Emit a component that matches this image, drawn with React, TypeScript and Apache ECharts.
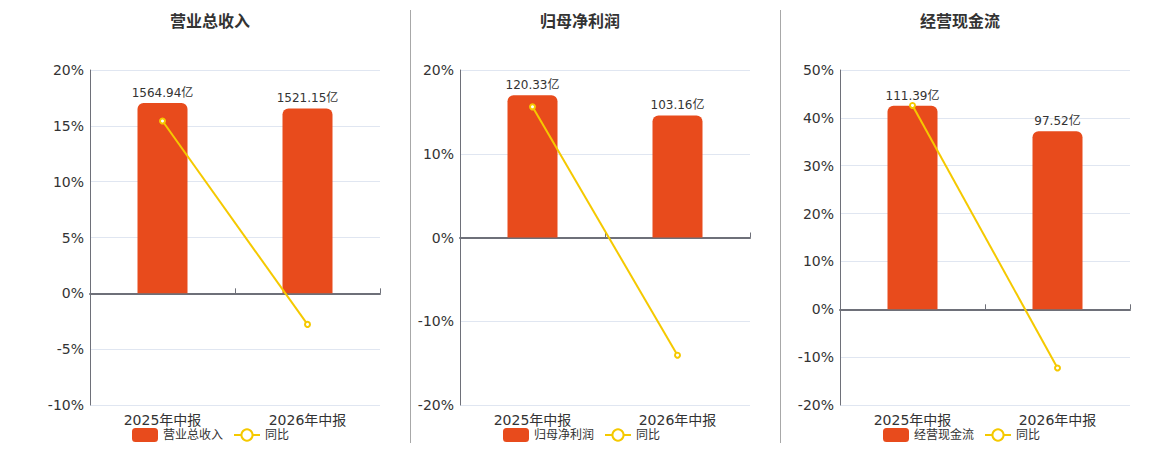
import React, { useEffect, useRef } from "react";
import * as echarts from "echarts";

const categories = ["2025年中报", "2026年中报"];
const titles = ["营业总收入", "归母净利润", "经营现金流"];
const revenue = [1564.94, 1521.15];
const revenueYoY = [15.43, -2.78];
const netProfit = [120.33, 103.16];
const netProfitYoY = [15.6, -14.05];
const cashFlow = [111.39, 97.52];
const cashFlowYoY = [42.6, -12.28];
const yoyName = "同比";

const barColor = "#E84B1C";
const lineColor = "#F5C900";
const font = "'DejaVu Sans', 'Noto Sans CJK SC', sans-serif";

export default function App() {
  const ref = useRef<HTMLDivElement>(null);
  useEffect(() => {
    if (!ref.current) return;
    const chart = echarts.init(ref.current, null, { renderer: "svg" });
    const panels = [
      { bars: revenue, yoy: revenueYoY, pct: { min: -10, max: 20, interval: 5 }, amt: { min: -918.4, max: 1836.8 } },
      { bars: netProfit, yoy: netProfitYoY, pct: { min: -20, max: 20, interval: 10 }, amt: { min: -141.6, max: 141.6 } },
      { bars: cashFlow, yoy: cashFlowYoY, pct: { min: -20, max: 50, interval: 10 }, amt: { min: -52.4, max: 131 } },
    ];
    const centers = [210, 580, 960];
    const gridLefts = [90, 460, 840];
    const legendLefts = [132, 503, 883];

    const grid: any[] = [];
    const xAxis: any[] = [];
    const yAxis: any[] = [];
    const series: any[] = [];
    const title: any[] = [];
    const legend: any[] = [];

    panels.forEach((p, i) => {
      grid.push({ left: gridLefts[i], width: 290, top: 70, height: 335 });
      title.push({
        text: titles[i],
        left: centers[i],
        textAlign: "center",
        top: 13,
        padding: 0,
        textStyle: { fontSize: 16, fontWeight: "bold", color: "#333", fontFamily: font },
      });
      legend.push({
        left: legendLefts[i],
        top: 428,
        padding: 0,
        itemWidth: 26,
        itemHeight: 14,
        itemGap: 10,
        textStyle: { fontSize: 12, color: "#333", fontFamily: font },
        data: [titles[i], yoyName],
      });
      xAxis.push({
        type: "category",
        gridIndex: i,
        data: categories,
        position: "bottom",
        axisLine: { show: false, onZero: false },
        axisTick: { show: false },
        axisLabel: { fontSize: 14, color: "#333", margin: 8, fontFamily: font },
      });
      xAxis.push({
        type: "category",
        gridIndex: i,
        data: categories,
        axisLine: { show: true, onZero: true, lineStyle: { color: "#6E7079", width: 2 } },
        axisTick: { show: true, length: 5, lineStyle: { color: "#6E7079" } },
        axisLabel: { show: false },
      });
      yAxis.push({
        type: "value",
        gridIndex: i,
        min: p.pct.min,
        max: p.pct.max,
        interval: p.pct.interval,
        axisLine: { show: true, lineStyle: { color: "#6E7079" } },
        axisTick: { show: false },
        axisLabel: { formatter: "{value}%", fontSize: 14, color: "#333", margin: 6, fontFamily: font },
        splitLine: { lineStyle: { color: "#E0E6F1" } },
      });
      yAxis.push({
        type: "value",
        gridIndex: i,
        min: p.amt.min,
        max: p.amt.max,
        show: false,
        splitLine: { show: false },
      });
      series.push({
        type: "bar",
        name: titles[i],
        xAxisIndex: i * 2,
        yAxisIndex: i * 2 + 1,
        data: p.bars,
        barWidth: 50,
        itemStyle: { color: barColor, borderRadius: [6, 6, 0, 0] },
        label: {
          show: true,
          position: "top",
          distance: 4,
          fontSize: 12,
          color: "#333",
          fontFamily: font,
          formatter: (v: any) => v.value.toFixed(2) + "亿",
        },
      });
      series.push({
        type: "line",
        name: yoyName,
        xAxisIndex: i * 2,
        yAxisIndex: i * 2,
        data: p.yoy,
        symbol: "emptyCircle",
        symbolSize: 5,
        lineStyle: { color: lineColor, width: 2 },
        itemStyle: { color: lineColor, borderWidth: 1.5 },
        z: 5,
      });
    });

    chart.setOption({
      animation: false,
      textStyle: { fontFamily: font },
      title,
      legend,
      grid,
      xAxis,
      yAxis,
      series,
      graphic: [
        { type: "line", shape: { x1: 410.5, y1: 10, x2: 410.5, y2: 443 }, style: { stroke: "#A8A8A8", lineWidth: 1 } },
        { type: "line", shape: { x1: 780.5, y1: 10, x2: 780.5, y2: 443 }, style: { stroke: "#A8A8A8", lineWidth: 1 } },
      ],
    });
    return () => chart.dispose();
  }, []);
  return (
    <div
      ref={ref}
      style={{ position: "absolute", left: 0, top: 0, width: 1160, height: 450 }}
    />
  );
}
